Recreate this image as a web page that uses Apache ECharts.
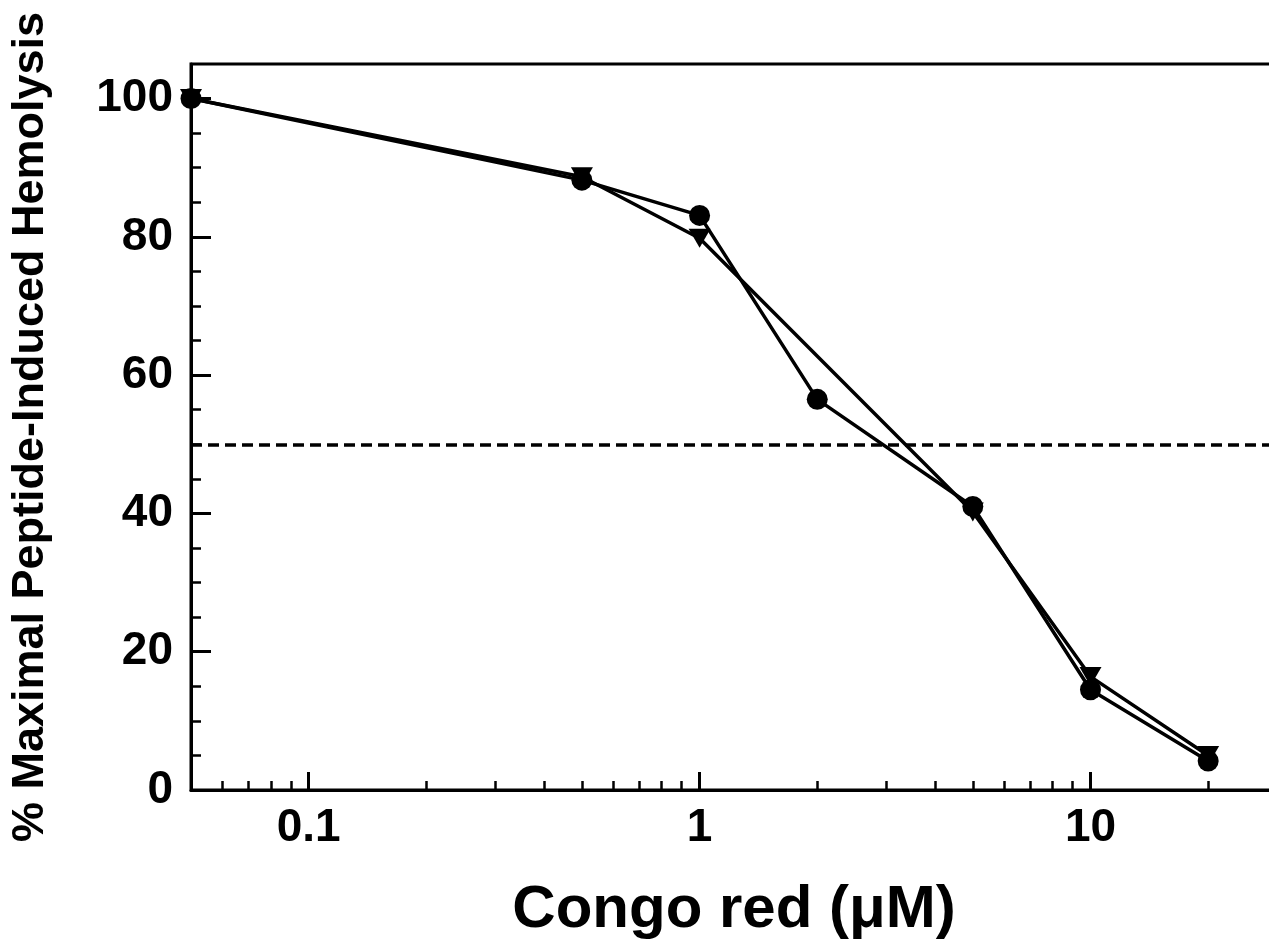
<!DOCTYPE html>
<html>
<head>
<meta charset="utf-8">
<script type="text/javascript" src="https://cdn.jsdelivr.net/npm/echarts@6/dist/echarts.min.js"></script>
<style>
  html, body { margin: 0; padding: 0; background: #fff; overflow: hidden; }
</style>
</head>
<body>
<!-- the plot frame runs a few px past the right edge of the figure, so the div is wider than the window -->
<div id="main" style="width:1280px;height:945px;"></div>
<script type="text/javascript">
// congo red concentration (uM) and % hemolysis
var circleX = [0.05, 0.5, 1, 2, 5, 10, 20];
var circleY = [100, 88.2, 83.1, 56.5, 41.0, 14.5, 4.2];
var triX = [0.05, 0.5, 1, 5, 10, 20];
var triY = [100, 88.7, 79.8, 40.2, 16.4, 5.0];

var xMajor = [0.1, 1, 10];
var xMinor = [0.06, 0.07, 0.08, 0.09, 0.2, 0.3, 0.4, 0.5, 0.6, 0.7, 0.8, 0.9,
              2, 3, 4, 5, 6, 7, 8, 9, 20];
var yMajor = [0, 20, 40, 60, 80, 100];
var yMinor = [5, 10, 15, 25, 30, 35, 45, 50, 55, 65, 70, 75, 85, 90, 95];
var halfLine = 50;

function pairs(xs, ys) {
  var out = [];
  for (var i = 0; i < xs.length; i++) out.push([xs[i], ys[i]]);
  return out;
}

var font = "'Liberation Sans', Arial, sans-serif";
var black = '#000';

var myChart = echarts.init(document.getElementById('main'));

var option = {
  animation: false,
  backgroundColor: '#fff',
  grid: {
    left: 189, right: 3, top: 64, bottom: 155,
    show: true, borderColor: black, borderWidth: 3
  },
  xAxis: [
    {
      type: 'log', min: 0.05, max: 30,
      name: 'Congo red (\u03bcM)',
      nameLocation: 'middle', nameGap: 90,
      nameTextStyle: { fontFamily: font, fontWeight: 'bold', fontSize: 60, color: black },
      axisLine: { show: true, lineStyle: { color: black, width: 3 } },
      axisTick: { show: true, inside: true, length: 18, customValues: xMajor,
                  lineStyle: { color: black, width: 3 } },
      axisLabel: { show: true, customValues: xMajor, margin: 15,
                   fontFamily: font, fontWeight: 'bold', fontSize: 46, color: black,
                   formatter: function (v) { return String(+v.toPrecision(3)); } },
      splitLine: { show: false },
      minorTick: { show: false }
    },
    {
      type: 'log', min: 0.05, max: 30, gridIndex: 0, position: 'bottom',
      axisLine: { show: false },
      axisTick: { show: true, inside: true, length: 9, customValues: xMinor,
                  lineStyle: { color: black, width: 2.5 } },
      axisLabel: { show: false },
      splitLine: { show: false }
    }
  ],
  yAxis: [
    {
      type: 'value', min: 0, max: 105,
      name: '% Maximal Peptide-Induced Hemolysis',
      nameLocation: 'middle', nameGap: 138,
      nameTextStyle: { fontFamily: font, fontWeight: 'bold', fontSize: 45, color: black },
      axisLine: { show: true, lineStyle: { color: black, width: 3 } },
      axisTick: { show: true, inside: true, length: 20, customValues: yMajor,
                  lineStyle: { color: black, width: 3 } },
      axisLabel: { show: true, customValues: yMajor, margin: 18,
                   fontFamily: font, fontWeight: 'bold', fontSize: 46, color: black },
      splitLine: { show: false }
    },
    {
      type: 'value', min: 0, max: 105, gridIndex: 0, position: 'left',
      axisLine: { show: false },
      axisTick: { show: true, inside: true, length: 10, customValues: yMinor,
                  lineStyle: { color: black, width: 2.5 } },
      axisLabel: { show: false },
      splitLine: { show: false }
    }
  ],
  series: [
    {
      name: 'triangles',
      type: 'line',
      data: pairs(triX, triY),
      symbol: 'triangle',
      symbolRotate: 180,
      symbolSize: [22, 19],
      showSymbol: true,
      lineStyle: { color: black, width: 3.5 },
      itemStyle: { color: black, borderWidth: 0 },
      z: 3,
      markLine: {
        silent: true,
        symbol: 'none',
        label: { show: false },
        lineStyle: { color: black, width: 3.5, type: [11, 6] },
        data: [{ yAxis: halfLine }]
      }
    },
    {
      name: 'circles',
      type: 'line',
      data: pairs(circleX, circleY),
      symbol: 'circle',
      symbolSize: 21,
      showSymbol: true,
      lineStyle: { color: black, width: 3.5 },
      itemStyle: { color: black, borderWidth: 0 },
      z: 4
    }
  ]
};

myChart.setOption(option);
</script>
</body>
</html>
